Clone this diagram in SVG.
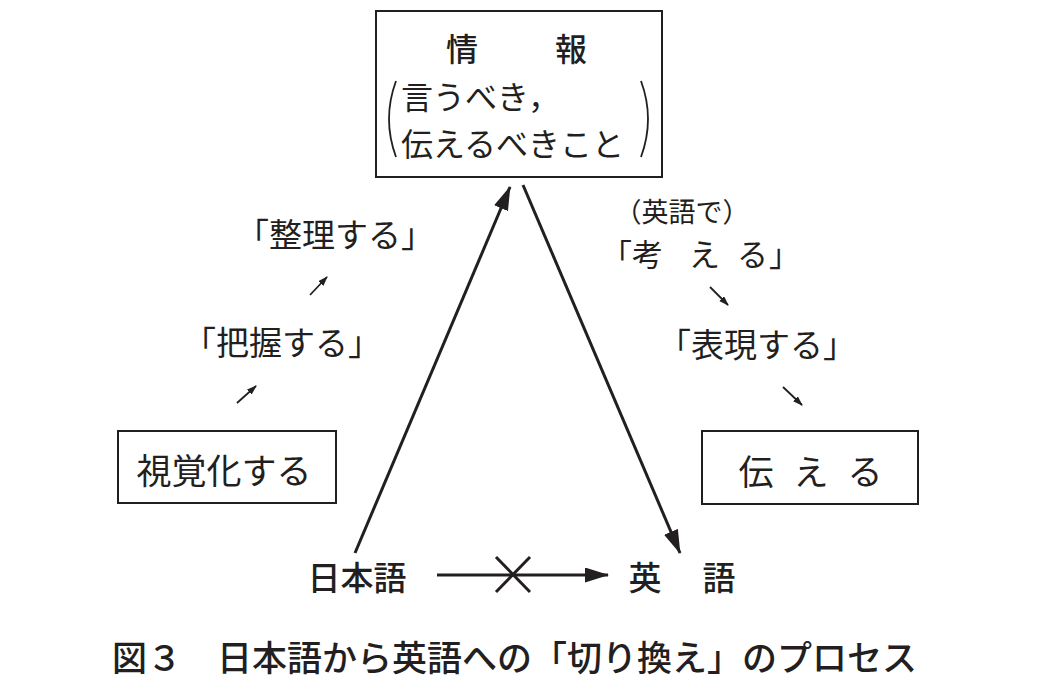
<svg xmlns="http://www.w3.org/2000/svg" width="1040" height="681" viewBox="0 0 1040 681">
<style>
.m{font-family:"Noto Sans CJK JP","Noto Sans CJK SC",sans-serif;fill:#231f20;dominant-baseline:central}
.g{font-family:"Noto Sans CJK JP","Noto Sans CJK SC",sans-serif;fill:#231f20;dominant-baseline:central;font-weight:500}
.box{fill:none;stroke:#231f20;stroke-width:2}
.ln{stroke:#231f20;stroke-width:3;fill:none}
.sm{stroke:#231f20;stroke-width:1.8;fill:none}
</style>
<defs>
<marker id="ah" markerUnits="userSpaceOnUse" markerWidth="24" markerHeight="16" refX="23" refY="7.5" orient="auto">
<path d="M0,0 L24,7.5 L0,15 Z" fill="#231f20"/>
</marker>
<marker id="as" markerUnits="userSpaceOnUse" markerWidth="10" markerHeight="8" refX="9" refY="3.5" orient="auto">
<path d="M0,0 L10,3.5 L0,7 Z" fill="#231f20"/>
</marker>
</defs>
<rect width="1040" height="681" fill="#ffffff"/>

<g id="info">
<rect class="box" x="376" y="11" width="286" height="166"/>
<text class="g" x="462" y="47" font-size="32" text-anchor="middle">情</text>
<text class="g" x="571" y="47" font-size="32" text-anchor="middle">報</text>
<path d="M396,81 Q382,119 396,157" class="sm" stroke-width="1.6"/>
<path d="M641,81 Q655,119 641,157" class="sm" stroke-width="1.6"/>
<text class="m" x="401" y="95" font-size="32">言うべき，</text>
<text class="m" x="401" y="142" font-size="32">伝えるべきこと</text>
</g>

<g id="seiri">
<text class="m" x="335" y="233" font-size="33" text-anchor="middle">「整理する」</text>
</g>
<g id="haaku">
<text class="m" x="282" y="341" font-size="33" text-anchor="middle">「把握する」</text>
</g>
<g id="shikaku">
<rect class="box" x="118" y="431" width="218" height="72"/>
<text class="m" x="224" y="468" font-size="35" text-anchor="middle">視覚化する</text>
</g>

<g id="kangaeru">
<text class="m" x="682" y="210" font-size="27" text-anchor="middle">（英語で）</text>
<text class="m" y="252" font-size="31"><tspan x="601">「</tspan><tspan x="632">考</tspan><tspan x="689">え</tspan><tspan x="737">る</tspan><tspan x="769">」</tspan></text>
</g>
<g id="hyogen">
<text class="m" x="757" y="343" font-size="33" text-anchor="middle">「表現する」</text>
</g>
<g id="tsutaeru">
<rect class="box" x="702" y="431" width="216" height="73"/>
<text class="m" x="756" y="469" font-size="35" text-anchor="middle">伝</text>
<text class="m" x="811" y="469" font-size="35" text-anchor="middle">え</text>
<text class="m" x="865" y="469" font-size="35" text-anchor="middle">る</text>
</g>

<g id="nihongo">
<text class="g" x="357" y="576" font-size="33" text-anchor="middle">日本語</text>
</g>
<g id="eigo">
<text class="g" x="645" y="576" font-size="33" text-anchor="middle">英</text>
<text class="g" x="719" y="576" font-size="33" text-anchor="middle">語</text>
</g>

<g id="connectors">
<line class="ln" x1="355" y1="553" x2="510" y2="187" marker-end="url(#ah)"/>
<line class="ln" x1="523" y1="185" x2="680" y2="553" marker-end="url(#ah)"/>
<line class="ln" x1="437" y1="575" x2="608" y2="575" marker-end="url(#ah)"/>
<line class="ln" x1="496" y1="557" x2="530" y2="592"/>
<line class="ln" x1="530" y1="557" x2="496" y2="592"/>
<line class="sm" x1="310" y1="295" x2="327" y2="277" marker-end="url(#as)"/>
<line class="sm" x1="237" y1="403" x2="256" y2="386" marker-end="url(#as)"/>
<line class="sm" x1="710" y1="287" x2="728" y2="305" marker-end="url(#as)"/>
<line class="sm" x1="783" y1="387" x2="802" y2="405" marker-end="url(#as)"/>
</g>

<text class="g" x="112" y="655" font-size="35" textLength="805" lengthAdjust="spacing">図３　日本語から英語への「切り換え」のプロセス</text>
</svg>
